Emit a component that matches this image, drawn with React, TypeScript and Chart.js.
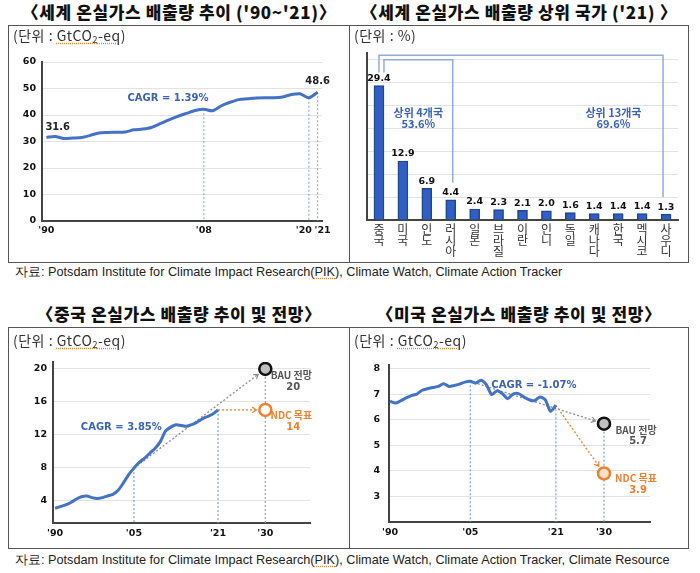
import React, { useEffect, useRef } from 'react';
import { Chart, registerables } from 'chart.js';
Chart.register(...registerables);

const KR = '"Noto Sans CJK KR", "Noto Sans", sans-serif';
const NUM = '"DejaVu Sans", "Noto Sans", sans-serif';
const BLUE = '#4472c4';
const AXIS = '#444444';
const GRID = '#e3e3e3';
const VLINE = '#7f9ee0';
const ORANGE = '#f07f2e';
const BRACKET = '#93abdc';
const LABEL_BLUE = '#3a63b8';

// ---------- World emissions ('90~'21)
const worldYears = [1990, 1991, 1992, 1993, 1994, 1995, 1996, 1997, 1998, 1999, 2000, 2001, 2002, 2003, 2004, 2005,
  2006, 2007, 2008, 2009, 2010, 2011, 2012, 2013, 2014, 2015, 2016, 2017, 2018, 2019, 2020, 2021];
const worldValues = [31.6, 31.9, 31.1, 31.3, 31.5, 32.3, 33.2, 33.4, 33.5, 33.6, 34.4, 34.7, 35.3, 36.7, 38.2, 39.5,
  40.6, 41.7, 42.2, 41.6, 43.5, 44.8, 45.8, 46.1, 46.4, 46.5, 46.5, 46.8, 47.7, 48.0, 46.5, 48.6];
const worldYTicks = [0, 10, 20, 30, 40, 50, 60];
const worldXTicks = [1990, 2008, 2020, 2021];
const worldXTickLabels = ["'90", "'08", "'20   ", "   '21"];
const worldMarkers = [2008, 2020, 2021];
const worldCagr = 'CAGR = 1.39%';

// ---------- Top emitters ('21)
const countries = ['중국', '미국', '인도', '러시아', '일본', '브라질', '이란', '인니', '독일', '캐나다', '한국', '멕시코', '사우디'];
const shares = [29.4, 12.9, 6.9, 4.4, 2.4, 2.3, 2.1, 2.0, 1.6, 1.4, 1.4, 1.4, 1.3];
const shareGridTicks = [0, 5, 10, 15, 20, 25, 30, 35];
const top4Label = ['상위 4개국', '53.6%'];
const top13Label = ['상위 13개국', '69.6%'];

// ---------- China
const chinaYears = [1990, 1991, 1992, 1993, 1994, 1995, 1996, 1997, 1998, 1999, 2000, 2001, 2002, 2003, 2004, 2005,
  2006, 2007, 2008, 2009, 2010, 2011, 2012, 2013, 2014, 2015, 2016, 2017, 2018, 2019, 2020, 2021];
const chinaValues = [3.0, 3.2, 3.4, 3.7, 4.1, 4.4, 4.5, 4.3, 4.2, 4.3, 4.5, 4.7, 5.2, 6.1, 7.1, 7.9,
  8.6, 9.1, 9.7, 10.3, 11.1, 12.4, 12.9, 13.2, 13.1, 13.0, 13.2, 13.5, 13.9, 14.2, 14.5, 15.0];
const chinaBau = 20;
const chinaNdc = 15;
const chinaBauLabel = ['BAU 전망', '20'];
const chinaNdcLabel = ['NDC 목표', '14'];
const chinaYTicks = [4, 8, 12, 16, 20];
const chinaCagr = 'CAGR = 3.85%';

// ---------- USA
const usYears = [1990, 1991, 1992, 1993, 1994, 1995, 1996, 1997, 1998, 1999, 2000, 2001, 2002, 2003, 2004, 2005,
  2006, 2007, 2008, 2009, 2010, 2011, 2012, 2013, 2014, 2015, 2016, 2017, 2018, 2019, 2020, 2021];
const usValues = [6.73, 6.66, 6.75, 6.86, 6.95, 7.01, 7.16, 7.22, 7.27, 7.31, 7.42, 7.31, 7.35, 7.40, 7.48, 7.51,
  7.44, 7.55, 7.38, 6.99, 7.14, 7.03, 6.83, 7.01, 7.03, 6.90, 6.79, 6.75, 6.90, 6.79, 6.34, 6.57];
const usBau = 5.85;
const usNdc = 3.9;
const usBauLabel = ['BAU 전망', '5.7'];
const usNdcLabel = ['NDC 목표', '3.9'];
const usYTicks = [3, 4, 5, 6, 7, 8];
const usCagr = 'CAGR = -1.07%';

const projXTicks = [1990, 2005, 2021, 2030];
const projXTickLabels = ["'90", "'05", "'21", "'30"];
const projStartYear = 2005;
const projEndYear = 2030;

// ---------- drawing helpers
function dotted(ctx: any, x1: number, y1: number, x2: number, y2: number, color: string, width = 1.2, dash = [2, 2]) {
  ctx.save();
  ctx.strokeStyle = color;
  ctx.lineWidth = width;
  ctx.setLineDash(dash);
  ctx.beginPath();
  ctx.moveTo(x1, y1);
  ctx.lineTo(x2, y2);
  ctx.stroke();
  ctx.restore();
}
function arrowHead(ctx: any, x1: number, y1: number, x2: number, y2: number, color: string) {
  const a = Math.atan2(y2 - y1, x2 - x1);
  const L = 5;
  ctx.save();
  ctx.strokeStyle = color;
  ctx.lineWidth = 1.2;
  ctx.setLineDash([]);
  ctx.beginPath();
  ctx.moveTo(x2 - L * Math.cos(a - 0.6), y2 - L * Math.sin(a - 0.6));
  ctx.lineTo(x2, y2);
  ctx.lineTo(x2 - L * Math.cos(a + 0.6), y2 - L * Math.sin(a + 0.6));
  ctx.stroke();
  ctx.restore();
}
function txt(ctx: any, s: string, x: number, y: number, font: string, color: string, align = 'center') {
  ctx.save();
  ctx.font = font;
  ctx.fillStyle = color;
  ctx.textAlign = align;
  ctx.textBaseline = 'middle';
  ctx.fillText(s, x, y);
  ctx.restore();
}
function projArrow(ctx: any, x1: number, y1: number, x2: number, y2: number, color: string) {
  const d = Math.hypot(x2 - x1, y2 - y1);
  const ex = x2 - ((x2 - x1) / d) * 9;
  const ey = y2 - ((y2 - y1) / d) * 9;
  dotted(ctx, x1, y1, ex, ey, color, 1.3, [2, 2]);
  arrowHead(ctx, x1, y1, ex, ey, color);
}

const tickFont = { family: NUM, size: 9.5, weight: 'bold' as const };

// ---------- World config
function worldConfig(): any {
  const ann = {
    id: 'worldAnn',
    beforeDatasetsDraw(chart: any) {
      const { ctx, scales: { x, y }, chartArea } = chart;
      worldMarkers.forEach((yr) => {
        const v = worldValues[worldYears.indexOf(yr)];
        dotted(ctx, x.getPixelForValue(yr), y.getPixelForValue(v), x.getPixelForValue(yr), chartArea.bottom, VLINE, 1);
      });
    },
    afterDatasetsDraw(chart: any) {
      const { ctx, scales: { x, y } } = chart;
      const f = `bold 10px ${NUM}`;
      const n = worldValues.length - 1;
      txt(ctx, worldValues[0].toFixed(1), x.getPixelForValue(worldYears[0]) - 1, y.getPixelForValue(worldValues[0]) - 10, f, '#222', 'left');
      txt(ctx, worldValues[n].toFixed(1), x.getPixelForValue(worldYears[n]), y.getPixelForValue(worldValues[n]) - 11, f, '#222');
      txt(ctx, worldCagr, x.getPixelForValue(2003.9), y.getPixelForValue(46.4), `bold 10px ${NUM}`, LABEL_BLUE);
    },
  };
  return {
    type: 'line',
    data: {
      datasets: [{
        data: worldYears.map((yr, i) => ({ x: yr, y: worldValues[i] })),
        borderColor: BLUE, borderWidth: 3, pointRadius: 0, tension: 0.25,
      }],
    },
    options: {
      animation: false, responsive: false,
      layout: { padding: { left: 4, right: 27, top: 37, bottom: 21 } },
      plugins: { legend: { display: false }, tooltip: { enabled: false } },
      scales: {
        x: {
          type: 'linear', min: 1989.5, max: 2021.5,
          grid: { display: false, drawTicks: false },
          border: { color: AXIS, width: 2 },
          afterBuildTicks: (s: any) => { s.ticks = worldXTicks.map((v) => ({ value: v })); },
          afterFit: (s: any) => { s.height = 20; },
          ticks: {
            font: tickFont, color: '#111', padding: 4, autoSkip: false, maxRotation: 0,
            callback: (v: number) => worldXTickLabels[worldXTicks.indexOf(v)],
          },
        },
        y: {
          min: 0, max: 60,
          grid: { color: GRID, drawTicks: false },
          border: { color: AXIS, width: 2 },
          afterBuildTicks: (s: any) => { s.ticks = worldYTicks.map((v) => ({ value: v })); },
          afterFit: (s: any) => { s.width = 30; },
          ticks: { font: tickFont, color: '#111', padding: 6 },
        },
      },
    },
    plugins: [ann],
  };
}

// ---------- Bar config
function barConfig(): any {
  const ann = {
    id: 'barAnn',
    afterDatasetsDraw(chart: any) {
      const { ctx, scales: { x, y } } = chart;
      const bars = chart.getDatasetMeta(0).data;
      bars.forEach((b: any, i: number) => {
        txt(ctx, shares[i].toFixed(1), b.x, b.y - 7, `bold 9.5px ${NUM}`, '#111');
      });
      const n = bars.length - 1;
      const oTop = y.getPixelForValue(36);
      ctx.save();
      ctx.strokeStyle = BRACKET; ctx.lineWidth = 1.5;
      ctx.beginPath();
      ctx.moveTo(bars[0].x, bars[0].y - 13);
      ctx.lineTo(bars[0].x, oTop);
      ctx.lineTo(bars[n].x - 3, oTop);
      ctx.lineTo(bars[n].x - 3, bars[n].y - 17);
      ctx.stroke();
      const iTop = y.getPixelForValue(35);
      ctx.beginPath();
      ctx.moveTo(bars[0].x + 5, bars[0].y - 13);
      ctx.lineTo(bars[0].x + 5, iTop);
      ctx.lineTo(bars[3].x + 2, iTop);
      ctx.lineTo(bars[3].x + 2, bars[3].y - 17);
      ctx.stroke();
      ctx.restore();
      const f = `bold 11px ${KR}`;
      txt(ctx, top4Label[0], (bars[0].x + 5 + bars[3].x + 2) / 2, y.getPixelForValue(23.4), f, LABEL_BLUE);
      txt(ctx, top4Label[1], (bars[0].x + 5 + bars[3].x + 2) / 2, y.getPixelForValue(21.1), f, LABEL_BLUE);
      txt(ctx, top13Label[0], x.getPixelForValue(9.8), y.getPixelForValue(23.4), f, LABEL_BLUE);
      txt(ctx, top13Label[1], x.getPixelForValue(9.8), y.getPixelForValue(21.1), f, LABEL_BLUE);
    },
  };
  return {
    type: 'bar',
    data: {
      labels: countries.map((c) => Array.from(c)),
      datasets: [{
        data: shares, backgroundColor: '#2f5fc2', borderColor: '#1d4496', borderWidth: 1.5,
        barThickness: 10,
      }],
    },
    options: {
      animation: false, responsive: false,
      layout: { padding: { left: 18, right: 10, top: 28, bottom: 2 } },
      plugins: { legend: { display: false }, tooltip: { enabled: false } },
      scales: {
        x: {
          grid: { display: false, drawTicks: false },
          border: { color: AXIS, width: 2 },
          afterFit: (s: any) => { s.height = 40; },
          ticks: { font: { family: KR, size: 12, lineHeight: 0.92 }, color: '#333', padding: 4, autoSkip: false, maxRotation: 0 },
        },
        y: {
          min: 0, max: 36.5,
          grid: { color: GRID, drawTicks: false },
          border: { color: AXIS, width: 2 },
          afterBuildTicks: (s: any) => { s.ticks = shareGridTicks.map((v) => ({ value: v })); },
          afterFit: (s: any) => { s.width = 0; },
          ticks: { display: false },
        },
      },
    },
    plugins: [ann],
  };
}

// ---------- Projection config (China / US)
function projConfig(p: any): any {
  const ann = {
    id: 'projAnn' + p.key,
    beforeDatasetsDraw(chart: any) {
      const { ctx, scales: { x, y }, chartArea } = chart;
      const v05 = p.values[p.years.indexOf(projStartYear)];
      const n = p.values.length - 1;
      const yr21 = p.years[n];
      const v21 = p.values[n];
      dotted(ctx, x.getPixelForValue(projStartYear), y.getPixelForValue(v05), x.getPixelForValue(projStartYear), chartArea.bottom, VLINE, 1.2);
      dotted(ctx, x.getPixelForValue(yr21), y.getPixelForValue(v21), x.getPixelForValue(yr21), chartArea.bottom, VLINE, 1.2);
      dotted(ctx, x.getPixelForValue(projEndYear), y.getPixelForValue(p.bau), x.getPixelForValue(projEndYear), chartArea.bottom, VLINE, 1.2);
      projArrow(ctx, x.getPixelForValue(projStartYear), y.getPixelForValue(v05), x.getPixelForValue(projEndYear), y.getPixelForValue(p.bau), '#8a8a8a');
      projArrow(ctx, x.getPixelForValue(yr21), y.getPixelForValue(v21), x.getPixelForValue(projEndYear), y.getPixelForValue(p.ndc), ORANGE);
    },
    afterDatasetsDraw(chart: any) {
      const { ctx, scales: { x, y } } = chart;
      const cx = x.getPixelForValue(projEndYear) + p.labelDx;
      const f = `bold 10px ${KR}`;
      const by = y.getPixelForValue(p.bau);
      txt(ctx, p.bauLabel[0], cx, by + 6, f, '#555');
      txt(ctx, p.bauLabel[1], cx + 2, by + 18, `bold 10px ${NUM}`, '#555');
      const ny = y.getPixelForValue(p.ndc);
      txt(ctx, p.ndcLabel[0], cx, ny + 5, f, ORANGE);
      txt(ctx, p.ndcLabel[1], cx + 2, ny + 17, `bold 10px ${NUM}`, ORANGE);
      txt(ctx, p.cagr, x.getPixelForValue(p.cagrAt[0]), y.getPixelForValue(p.cagrAt[1]), `bold 10px ${NUM}`, LABEL_BLUE);
    },
  };
  return {
    type: 'line',
    data: {
      datasets: [
        {
          data: p.years.map((yr: number, i: number) => ({ x: yr, y: p.values[i] })),
          borderColor: BLUE, borderWidth: 3, pointRadius: 0, tension: 0.25,
        },
        {
          data: [{ x: projEndYear, y: p.bau }], showLine: false,
          pointRadius: 6, pointBackgroundColor: '#bfbfbf', pointBorderColor: '#111', pointBorderWidth: 2.5,
        },
        {
          data: [{ x: projEndYear, y: p.ndc }], showLine: false,
          pointRadius: 6, pointBackgroundColor: p.ndcFill, pointBorderColor: ORANGE, pointBorderWidth: 2.5,
        },
      ],
    },
    options: {
      animation: false, responsive: false,
      layout: { padding: p.padding },
      plugins: { legend: { display: false }, tooltip: { enabled: false } },
      scales: {
        x: {
          type: 'linear', min: p.xMin, max: p.xMax,
          grid: { display: false, drawTicks: false },
          border: { color: AXIS, width: 2 },
          afterBuildTicks: (s: any) => { s.ticks = projXTicks.map((v) => ({ value: v })); },
          afterFit: (s: any) => { s.height = 20; },
          ticks: {
            font: tickFont, color: '#111', padding: 5, autoSkip: false, maxRotation: 0,
            callback: (v: number) => projXTickLabels[projXTicks.indexOf(v)],
          },
        },
        y: {
          min: p.yMin, max: p.yMax,
          grid: { color: GRID, drawTicks: false },
          border: { color: AXIS, width: 2 },
          afterBuildTicks: (s: any) => { s.ticks = p.yTicks.map((v: number) => ({ value: v })); },
          afterFit: (s: any) => { s.width = p.yWidth; },
          ticks: { font: tickFont, color: '#111', padding: p.yPad },
        },
      },
    },
    plugins: [ann],
  };
}

function ChartBox({ left, top, width, height, config }: any) {
  const ref = useRef<HTMLCanvasElement | null>(null);
  useEffect(() => {
    if (!ref.current) return;
    const c = new Chart(ref.current, config());
    return () => c.destroy();
  }, []);
  return (
    <canvas
      ref={ref}
      width={width}
      height={height}
      style={{ position: 'absolute', left, top, width, height, zIndex: 2 }}
    />
  );
}

const titleStyle = (left: number, width: number, top: number): React.CSSProperties => ({
  position: 'absolute', left, width, top, height: 22, lineHeight: '22px', textAlign: 'center',
  fontFamily: KR, fontWeight: 900, fontSize: 17, color: '#111', letterSpacing: 0.6, whiteSpace: 'nowrap',
});
const boxStyle = (left: number, top: number, width: number, height: number): React.CSSProperties => ({
  position: 'absolute', left, top, width, height, border: '1.5px solid #555', boxSizing: 'border-box',
});
const unitStyle = (left: number, top: number): React.CSSProperties => ({
  position: 'absolute', left, top, fontFamily: KR, fontSize: 14, color: '#333', lineHeight: '16px',
  whiteSpace: 'nowrap', zIndex: 3, letterSpacing: 0.5,
});
const srcStyle = (top: number): React.CSSProperties => ({
  position: 'absolute', left: 15, top, fontFamily: '"Liberation Sans", Arial, sans-serif', fontSize: 12.7,
  color: '#222', lineHeight: '16px', whiteSpace: 'nowrap',
});
const squiggle: React.CSSProperties = { textDecoration: 'underline dotted #e8862a', textUnderlineOffset: 2 };

function Unit({ pct }: { pct?: boolean }) {
  if (pct) return <span>(단위 : %)</span>;
  return (
    <span>(단위 : <span style={squiggle}>GtCO<sub style={{ fontSize: 9, verticalAlign: -2 }}>2</sub>-eq</span>)</span>
  );
}

export default function App() {
  return (
    <div style={{ position: 'absolute', left: 0, top: 0, width: 700, height: 573, background: '#fff', overflow: 'hidden' }}>
      <div style={titleStyle(8, 342, 1)}>〈세계 온실가스 배출량 추이 ('90~'21)〉</div>
      <div style={titleStyle(349, 340, 1)}>〈세계 온실가스 배출량 상위 국가 ('21) 〉</div>
      <div style={boxStyle(8, 25, 342, 238)} />
      <div style={boxStyle(349, 25, 340, 238)} />
      <div style={unitStyle(13, 27)}><Unit /></div>
      <div style={unitStyle(354, 27)}><Unit pct /></div>
      <ChartBox left={8} top={25} width={341} height={237} config={worldConfig} />
      <ChartBox left={349} top={25} width={339} height={237} config={barConfig} />
      <div style={srcStyle(264)}>자료: Potsdam Institute for Climate Impact Research(<span style={squiggle}>PIK</span>), Climate Watch, Climate Action Tracker</div>

      <div style={titleStyle(8, 342, 303)}>〈중국 온실가스 배출량 추이 및 전망〉</div>
      <div style={titleStyle(349, 340, 303)}>〈미국 온실가스 배출량 추이 및 전망〉</div>
      <div style={boxStyle(8, 327, 342, 222)} />
      <div style={boxStyle(349, 327, 340, 222)} />
      <div style={unitStyle(13, 332)}><Unit /></div>
      <div style={unitStyle(354, 332)}><Unit /></div>
      <ChartBox left={8} top={327} width={341} height={221} config={() => projConfig({
        key: 'cn', years: chinaYears, values: chinaValues, bau: chinaBau, ndc: chinaNdc,
        bauLabel: chinaBauLabel, ndcLabel: chinaNdcLabel, cagr: chinaCagr, cagrAt: [2002.6, 12.9],
        yMin: 1.2, yMax: 20.85, yTicks: chinaYTicks, xMin: 1989.6, xMax: 2038.5,
        yWidth: 38, yPad: 6, padding: { left: 7, right: 39, top: 35, bottom: 5 }, labelDx: 26, ndcFill: '#ffffff',
      })} />
      <ChartBox left={349} top={327} width={339} height={221} config={() => projConfig({
        key: 'us', years: usYears, values: usValues, bau: usBau, ndc: usNdc,
        bauLabel: usBauLabel, ndcLabel: usNdcLabel, cagr: usCagr, cagrAt: [2016.9, 7.35],
        yMin: 2, yMax: 8.15, yTicks: usYTicks, xMin: 1989.8, xMax: 2038.6,
        yWidth: 34, yPad: 9, padding: { left: 6, right: 38, top: 38, bottom: 6 }, labelDx: 32, ndcFill: '#fde1cd',
      })} />
      <div style={srcStyle(552)}>자료: Potsdam Institute for Climate Impact Research(<span style={squiggle}>PIK</span>), Climate Watch, Climate Action Tracker, Climate Resource</div>
    </div>
  );
}
